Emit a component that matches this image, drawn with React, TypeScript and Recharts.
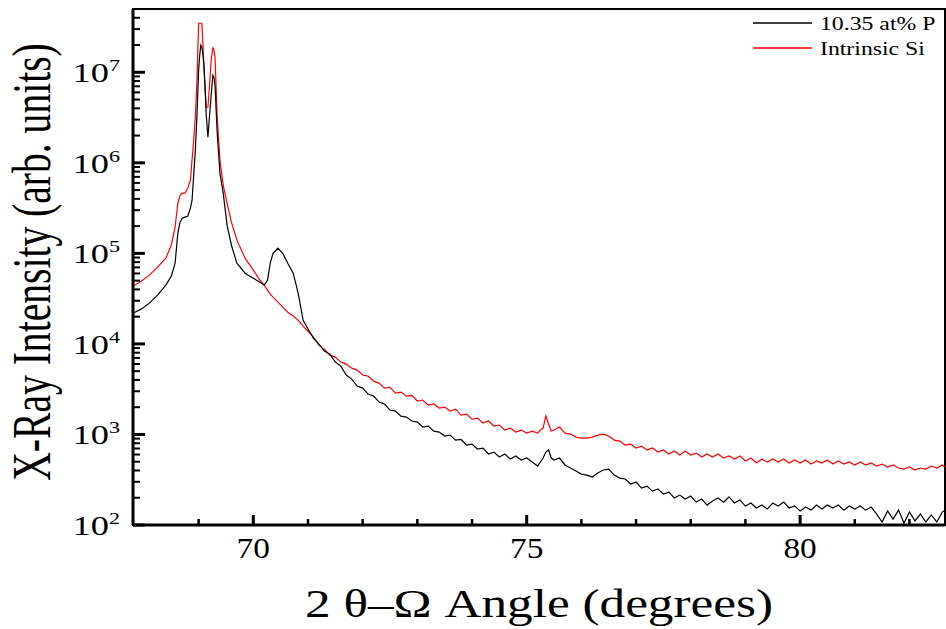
import React from "react";
import { LineChart, Line, XAxis, YAxis, ReferenceArea, Legend, Label } from "recharts";

// 2θ–Ω angle grid (degrees), shared by both scans
const angles = [
  67.8, 67.95, 68.1, 68.25, 68.4, 68.5, 68.57, 68.62, 68.66, 68.7,
  68.75, 68.8, 68.85, 68.88, 68.91, 68.94, 68.97, 69.0, 69.02, 69.04,
  69.06, 69.08, 69.1, 69.12, 69.14, 69.17, 69.2, 69.23, 69.26, 69.28,
  69.3, 69.34, 69.39, 69.45, 69.52, 69.6, 69.7, 69.85, 70.0, 70.12,
  70.2, 70.26, 70.31, 70.36, 70.45, 70.54, 70.63, 70.73, 70.82, 70.91,
  71.0,
  71.1, 71.2, 71.3, 71.4, 71.5, 71.6, 71.7, 71.8, 71.9, 72.0,
  72.1, 72.2, 72.3, 72.4, 72.5, 72.6, 72.7, 72.8, 72.9, 73.0,
  73.1, 73.2, 73.3, 73.4, 73.5, 73.6, 73.7, 73.8, 73.9, 74.0,
  74.1, 74.2, 74.3, 74.4, 74.5, 74.6, 74.7, 74.8, 74.9, 75.0,
  75.1, 75.2, 75.25, 75.3, 75.35, 75.4, 75.45, 75.5, 75.6, 75.7,
  75.8, 75.9, 76.0, 76.1, 76.2, 76.3, 76.4, 76.5, 76.6, 76.7,
  76.8, 76.9, 77.0, 77.1, 77.2, 77.3, 77.4, 77.5, 77.6, 77.7,
  77.8, 77.9, 78.0, 78.1, 78.2, 78.3, 78.4, 78.5, 78.6, 78.7,
  78.8, 78.9, 79.0, 79.1, 79.2, 79.3, 79.4, 79.5, 79.6, 79.7,
  79.8, 79.9, 80.0, 80.1, 80.2, 80.3, 80.4, 80.5, 80.6, 80.7,
  80.8, 80.9, 81.0, 81.1, 81.2, 81.3, 81.4, 81.5, 81.6, 81.7,
  81.8, 81.9, 82.0, 82.1, 82.2, 82.3, 82.4, 82.5, 82.6, 82.65,
];

// 10.35 at% P (black)
const pDoped = [
  2.19e4, 2.42e4, 2.82e4, 3.46e4, 4.46e4, 5.6e4, 7.79e4, 1.67e5, 2.21e5, 2.45e5,
  2.51e5, 2.57e5, 3.16e5, 3.86e5, 7.3e5, 1.38e6, 3.35e6, 1.05e7, 1.54e7, 1.99e7,
  1.89e7, 1.54e7, 1.13e7, 6.33e6, 3.35e6, 1.92e6, 3.35e6, 5.57e6, 9.27e6, 8.81e6,
  7.19e6, 2.12e6, 7.68e5, 4.62e5, 2.05e5, 1.23e5, 7.79e4, 6.04e4, 5.32e4, 4.81e4,
  4.46e4, 5.06e4, 7.79e4, 1.0e5, 1.14e5, 1.0e5, 7.79e4, 6.04e4, 3.64e4, 1.83e4,
  1.46e4,
  11590, 9950, 8330, 7710, 6300, 5690, 4530, 4088, 3422, 3250,
  2792, 2650, 2280, 2170, 1860, 1813, 1596, 1556, 1406, 1371,
  1207, 1238, 1090, 1062, 960, 984, 867, 880, 763, 783,
  690, 708, 608, 639, 563, 608, 535, 578, 522, 549,
  496, 448, 496, 549, 639, 673, 549, 522, 549, 460,
  426, 395, 365, 356, 339, 375, 405, 415, 356, 330,
  322, 284, 298, 256, 269, 237, 250, 220, 231, 199,
  214, 194, 209, 179, 194, 166, 184, 199, 179, 204,
  175, 189, 162, 175, 154, 166, 150, 175, 162, 179,
  154, 162, 143, 158, 146, 166, 150, 166, 154, 166,
  146, 162, 150, 162, 146, 158, 132, 108, 143, 116,
  146, 105, 139, 111, 132, 108, 129, 108, 139, 146,
];

// Intrinsic Si (red)
const intrinsic = [
  4.35e4, 4.93e4, 5.75e4, 7.04e4, 8.85e4, 1.23e5, 1.95e5, 3.58e5, 4.39e5, 4.62e5,
  4.62e5, 5.25e5, 6.43e5, 1.07e6, 1.78e6, 3.19e6, 8.16e6, 3.48e7, 3.48e7, 3.48e7,
  3.48e7, 1.99e7, 1.05e7, 6.33e6, 4.11e6, 4.11e6, 7.19e6, 1.36e7, 1.89e7, 1.75e7,
  1.47e7, 3.19e6, 1.07e6, 5.66e5, 3.58e5, 2.21e5, 1.4e5, 8.85e4, 6.53e4, 5.06e4,
  4.46e4, 3.93e4, 3.55e4, 3.29e4, 2.89e4, 2.55e4, 2.24e4, 2.03e4, 1.83e4, 1.57e4,
  1.38e4,
  11890, 9700, 8760, 7520, 7150, 6300, 5980, 5400, 5140, 4530,
  4410, 3880, 3690, 3250, 3320, 2865, 2940, 2650, 2700, 2340,
  2400, 2110, 2170, 1955, 2005, 1813, 1905, 1637, 1680, 1479,
  1517, 1336, 1406, 1238, 1270, 1118, 1177, 1062, 1118, 1035,
  1090, 1035, 1118, 1177, 1600, 1303, 1090, 1118, 1207, 1035,
  1010, 935, 912, 912, 935, 984, 1010, 960, 867, 845,
  763, 783, 708, 744, 673, 708, 639, 673, 608, 656,
  593, 656, 593, 623, 563, 608, 563, 608, 549, 578,
  535, 578, 509, 549, 484, 535, 496, 535, 496, 535,
  484, 522, 484, 522, 471, 509, 484, 522, 471, 509,
  471, 496, 460, 496, 460, 484, 448, 471, 437, 460,
  426, 415, 437, 405, 426, 415, 448, 426, 460, 437,
];

const xTicks = [69, 70, 71, 72, 73, 74, 75, 76, 77, 78, 79, 80, 81, 82];
const xLabels = [70, 75, 80];
const yDecades = [1e2, 1e3, 1e4, 1e5, 1e6, 1e7];
const yMinor = [2, 3, 4, 5, 6, 7, 8, 9];

const seriesNames = ["10.35 at% P", "Intrinsic Si"];
const seriesColors = ["#000000", "#ff0000"];

const FONT = '"Liberation Serif", "Times New Roman", serif';
const X_DOMAIN: [number, number] = [67.8, 82.65];
const Y_DOMAIN: [number, number] = [100, 5e7];

const data = angles.map((a, i) => ({ angle: a, p: pDoped[i], si: intrinsic[i] }));
const yTicks = yDecades
  .flatMap((d) => [d, ...yMinor.map((m) => m * d)])
  .filter((v) => v < Y_DOMAIN[1]);

const YTick = (props: any) => {
  const { x, y, payload } = props;
  const v = payload.value;
  const exp = Math.round(Math.log10(v));
  const major = Math.abs(v - Math.pow(10, exp)) < v * 1e-6;
  return (
    <g>
      <line x1={x} y1={y} x2={x + (major ? 12 : 7)} y2={y} stroke="#000" strokeWidth={major ? 3 : 2} />
      {major && (
        <text
          transform={`translate(${x - 13},${y + 10}) scale(1.3,1)`}
          textAnchor="end"
          fontFamily={FONT}
          fontSize={28}
          fill="#000"
        >
          10<tspan dy={-11} fontSize={17}>{exp}</tspan>
        </text>
      )}
    </g>
  );
};

const XTick = (props: any) => {
  const { x, y, payload } = props;
  const v = payload.value;
  const major = xLabels.includes(v);
  return (
    <g>
      <line x1={x} y1={y} x2={x} y2={y - (major ? 10 : 6)} stroke="#000" strokeWidth={major ? 3 : 2.5} />
      {major && (
        <text
          transform={`translate(${x},${y + 33}) scale(1.15,1)`}
          textAnchor="middle"
          fontFamily={FONT}
          fontSize={29}
          fill="#000"
        >
          {v}
        </text>
      )}
    </g>
  );
};

// the source image is stretched sideways, so the rotated title is thick but short
const YTitle = (props: any) => {
  const vb = props.viewBox || { x: 0, y: 9, width: 133, height: 516 };
  const cy = vb.y + vb.height / 2 - 5;
  return (
    <text
      transform={`translate(${vb.x + 50},${cy}) rotate(-90) scale(1,1.4)`}
      textAnchor="middle"
      fontFamily={FONT}
      fontSize={39.6}
      fill="#000"
    >
      X-Ray Intensity (arb. units)
    </text>
  );
};

const XTitle = (props: any) => {
  const vb = props.viewBox || { x: 133, y: 525, width: 812, height: 104 };
  return (
    <text
      transform={`translate(${vb.x + vb.width / 2},${vb.y + 92}) scale(1.25,1)`}
      textAnchor="middle"
      fontFamily={FONT}
      fontSize={41}
      fill="#000"
    >
      2 θ–Ω Angle (degrees)
    </text>
  );
};

const LegendBox = () => (
  <svg width={946} height={70} style={{ display: "block" }}>
    {seriesNames.map((name, i) => (
      <g key={name}>
        <line x1={753} x2={812} y1={23 + i * 25} y2={23 + i * 25} stroke={seriesColors[i]} strokeWidth={1.3} />
        <text
          transform={`translate(820,${30 + i * 25}) scale(1.25,1)`}
          fontFamily={FONT}
          fontSize={19}
          fill="#000"
        >
          {name}
        </text>
      </g>
    ))}
  </svg>
);

export default function App() {
  return (
    <div style={{ position: "absolute", left: 0, top: 0, width: 946, height: 629, background: "#fff" }}>
      <LineChart width={946} height={629} data={data} margin={{ top: 9, right: 1, bottom: 0, left: 0 }}>
        <ReferenceArea
          x1={X_DOMAIN[0]}
          x2={X_DOMAIN[1]}
          y1={Y_DOMAIN[0]}
          y2={Y_DOMAIN[1]}
          fill="none"
          stroke="#000"
          strokeWidth={2}
          ifOverflow="visible"
        />
        <XAxis
          dataKey="angle"
          type="number"
          domain={X_DOMAIN}
          allowDataOverflow
          ticks={xTicks}
          interval={0}
          tick={(p: any) => <XTick {...p} />}
          tickLine={false}
          tickSize={0}
          tickMargin={0}
          axisLine={{ stroke: "#000", strokeWidth: 3 }}
          height={104}
        >
          <Label content={XTitle} />
        </XAxis>
        <YAxis
          type="number"
          scale="log"
          domain={Y_DOMAIN}
          allowDataOverflow
          ticks={yTicks}
          interval={0}
          tick={(p: any) => <YTick {...p} />}
          tickLine={false}
          tickSize={0}
          tickMargin={0}
          axisLine={{ stroke: "#000", strokeWidth: 3 }}
          width={133}
        >
          <Label content={YTitle} />
        </YAxis>
        <Legend
          layout="vertical"
          align="center"
          verticalAlign="middle"
          content={() => <LegendBox />}
          wrapperStyle={{ top: 0, left: 0, width: 946, height: 70 }}
        />
        <Line
          type="linear"
          dataKey="si"
          name={seriesNames[1]}
          stroke={seriesColors[1]}
          strokeWidth={1.2}
          dot={false}
          isAnimationActive={false}
        />
        <Line
          type="linear"
          dataKey="p"
          name={seriesNames[0]}
          stroke={seriesColors[0]}
          strokeWidth={1.2}
          dot={false}
          isAnimationActive={false}
        />
      </LineChart>
    </div>
  );
}
